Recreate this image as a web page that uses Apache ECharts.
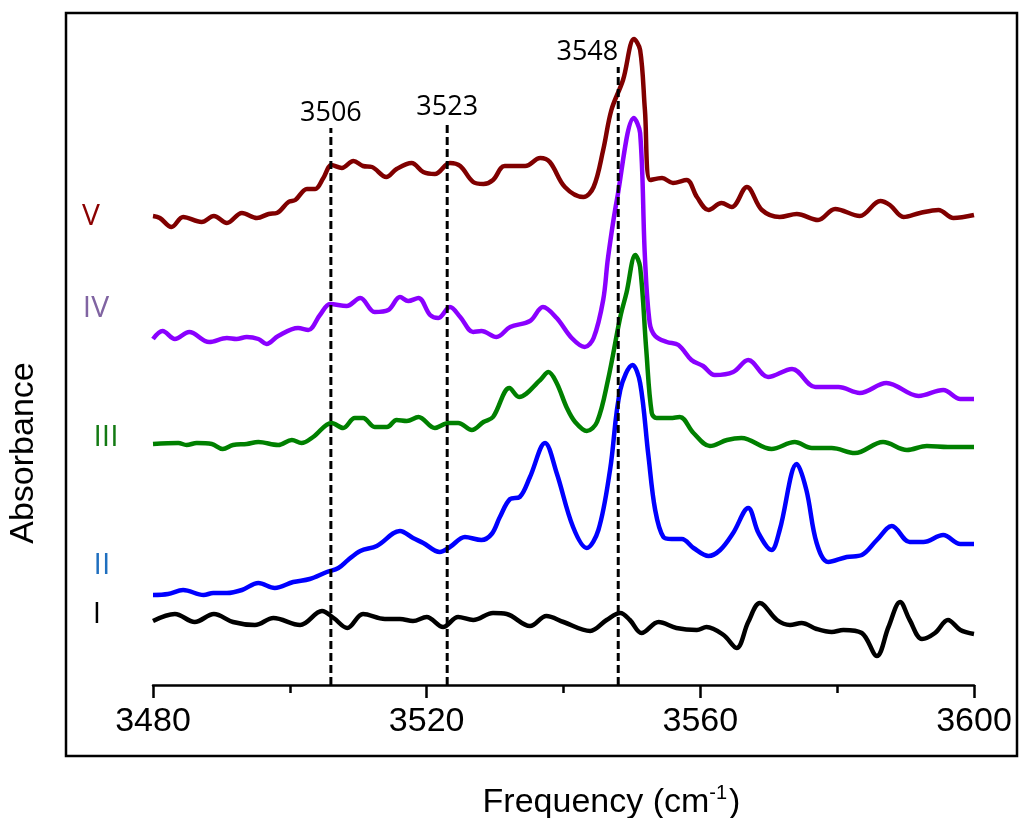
<!DOCTYPE html>
<html>
<head>
<meta charset="utf-8">
<script src="https://cdn.jsdelivr.net/npm/echarts@6/dist/echarts.min.js"></script>
<style>html,body{margin:0;padding:0;background:#fff}#c{width:1035px;height:818px}</style>
</head>
<body>
<div id="c"></div>
<script>
// x tick range
const xTicks = [3480, 3520, 3560, 3600];

// Spectrum V
const specV = [[3480.0,4.69],[3481.0,4.67],[3482.7,4.58],[3484.4,4.68],[3487.1,4.63],[3488.9,4.69],[3490.8,4.62],[3493.0,4.72],[3495.2,4.67],[3496.9,4.71],[3498.1,4.72],[3499.8,4.83],[3500.8,4.85],[3502.5,4.96],[3503.7,4.96],[3504.9,5.07],[3506.1,5.20],[3507.6,5.17],[3509.3,5.24],[3510.7,5.19],[3512.0,5.18],[3514.1,5.08],[3515.6,5.16],[3517.8,5.22],[3519.5,5.13],[3521.2,5.11],[3523.4,5.22],[3524.9,5.19],[3526.8,5.03],[3528.3,5.01],[3529.7,5.05],[3531.4,5.19],[3534.4,5.19],[3536.6,5.27],[3538.0,5.23],[3540.2,4.98],[3542.9,4.88],[3544.4,4.98],[3545.8,5.35],[3547.0,5.75],[3548.7,6.05],[3550.3,6.46],[3551.2,6.35],[3551.9,5.75],[3552.7,5.05],[3554.4,5.07],[3556.0,5.02],[3558.0,5.05],[3559.5,4.88],[3561.2,4.75],[3563.1,4.82],[3564.6,4.78],[3566.8,4.98],[3569.0,4.75],[3571.6,4.68],[3574.1,4.71],[3577.2,4.65],[3579.7,4.76],[3583.3,4.69],[3586.3,4.84],[3587.7,4.80],[3589.7,4.68],[3592.1,4.72],[3594.8,4.75],[3597.0,4.67],[3600.0,4.70]];

// Spectrum IV
const specIV = [[3480.0,3.46],[3481.4,3.54],[3483.2,3.46],[3485.3,3.53],[3488.2,3.43],[3490.8,3.47],[3492.2,3.46],[3493.7,3.48],[3495.4,3.46],[3496.6,3.41],[3498.3,3.49],[3501.2,3.57],[3502.7,3.55],[3504.4,3.70],[3505.9,3.81],[3508.3,3.79],[3510.3,3.87],[3512.4,3.73],[3514.4,3.75],[3516.1,3.88],[3517.3,3.84],[3518.8,3.87],[3520.5,3.70],[3521.7,3.67],[3523.4,3.78],[3524.9,3.68],[3526.8,3.53],[3528.0,3.54],[3530.2,3.48],[3532.2,3.58],[3535.1,3.64],[3537.0,3.78],[3539.0,3.67],[3541.2,3.47],[3543.1,3.38],[3544.4,3.47],[3545.8,3.85],[3546.5,4.27],[3547.8,4.85],[3550.3,5.67],[3551.2,5.52],[3551.9,4.28],[3552.6,3.62],[3553.4,3.49],[3555.1,3.43],[3556.8,3.40],[3558.7,3.25],[3560.4,3.19],[3562.1,3.10],[3564.8,3.13],[3567.0,3.25],[3569.9,3.08],[3573.4,3.16],[3576.8,2.98],[3580.2,2.98],[3583.3,2.92],[3587.2,3.02],[3591.9,2.89],[3595.5,2.95],[3598.0,2.86],[3600.0,2.86]];

// Spectrum III
const specIII = [[3480.0,2.41],[3483.7,2.42],[3484.9,2.40],[3486.4,2.42],[3488.6,2.41],[3490.2,2.36],[3491.7,2.40],[3493.7,2.41],[3495.4,2.43],[3498.3,2.40],[3500.3,2.45],[3501.7,2.42],[3503.4,2.48],[3506.1,2.62],[3507.8,2.57],[3509.5,2.67],[3510.7,2.67],[3512.4,2.58],[3514.2,2.58],[3515.6,2.65],[3517.1,2.64],[3518.8,2.68],[3521.2,2.57],[3523.2,2.62],[3524.6,2.62],[3526.6,2.55],[3528.3,2.63],[3529.7,2.68],[3532.1,2.97],[3533.5,2.88],[3536.6,3.05],[3537.8,3.13],[3539.0,3.02],[3540.5,2.77],[3541.7,2.63],[3543.4,2.54],[3544.9,2.63],[3546.5,3.05],[3548.3,3.68],[3549.2,3.92],[3550.5,4.30],[3551.2,4.18],[3552.1,3.35],[3552.9,2.72],[3553.6,2.67],[3555.6,2.67],[3557.0,2.68],[3559.0,2.52],[3561.4,2.39],[3563.9,2.45],[3566.0,2.47],[3570.4,2.36],[3573.8,2.43],[3576.3,2.37],[3579.2,2.37],[3582.6,2.32],[3586.7,2.43],[3590.2,2.35],[3593.1,2.39],[3596.2,2.38],[3600.0,2.38]];

// Spectrum II
const specII = [[3480.0,0.90],[3482.2,0.91],[3484.4,0.95],[3487.4,0.90],[3488.8,0.92],[3490.8,0.92],[3493.0,0.95],[3495.4,1.02],[3497.8,0.97],[3500.5,1.03],[3502.9,1.06],[3505.4,1.13],[3507.1,1.17],[3508.5,1.25],[3510.3,1.34],[3512.7,1.39],[3516.1,1.54],[3518.0,1.47],[3519.5,1.42],[3521.9,1.33],[3523.4,1.38],[3525.6,1.48],[3528.0,1.45],[3529.5,1.51],[3530.7,1.68],[3532.2,1.86],[3533.6,1.88],[3535.1,2.08],[3537.3,2.42],[3539.0,2.12],[3541.4,1.58],[3543.4,1.37],[3545.1,1.55],[3546.8,2.15],[3548.3,2.95],[3550.1,3.20],[3551.2,3.02],[3552.4,2.30],[3553.4,1.75],[3554.6,1.48],[3555.8,1.46],[3557.3,1.46],[3559.0,1.37],[3561.2,1.29],[3562.9,1.35],[3564.8,1.52],[3567.0,1.77],[3568.5,1.52],[3570.4,1.35],[3571.6,1.55],[3574.1,2.21],[3575.5,1.95],[3577.0,1.42],[3578.7,1.23],[3581.4,1.28],[3583.6,1.30],[3585.8,1.45],[3588.0,1.59],[3590.6,1.43],[3592.6,1.43],[3595.5,1.50],[3598.0,1.41],[3600.0,1.41]];

// Spectrum I
const specI = [[3480.0,0.64],[3483.2,0.71],[3486.1,0.63],[3488.9,0.71],[3491.7,0.63],[3494.9,0.60],[3497.6,0.67],[3501.5,0.60],[3504.7,0.74],[3506.4,0.67],[3508.4,0.57],[3510.7,0.71],[3513.9,0.66],[3516.1,0.66],[3518.0,0.64],[3520.0,0.68],[3522.4,0.58],[3524.6,0.68],[3526.8,0.65],[3529.7,0.72],[3531.7,0.71],[3535.1,0.59],[3537.5,0.69],[3540.0,0.63],[3543.9,0.54],[3546.3,0.65],[3548.3,0.72],[3549.7,0.65],[3551.4,0.52],[3553.9,0.63],[3556.5,0.57],[3559.5,0.55],[3560.9,0.58],[3563.4,0.50],[3565.3,0.37],[3567.0,0.63],[3568.7,0.82],[3571.2,0.65],[3573.1,0.60],[3574.8,0.62],[3577.0,0.56],[3579.2,0.53],[3580.9,0.55],[3583.6,0.52],[3585.8,0.29],[3587.5,0.58],[3589.2,0.83],[3590.6,0.65],[3592.4,0.46],[3594.3,0.52],[3596.2,0.65],[3598.0,0.55],[3600.0,0.51]];

// Marker (dashed) lines
const markerFreq = [3506, 3523, 3548];
const markerTop = [5.57, 5.63, 6.18];

const seriesNames = ['V', 'IV', 'III', 'II', 'I'];
const seriesData = [specV, specIV, specIII, specII, specI];
const lineColors = ['#800000', '#8a00ff', '#008000', '#0000ff', '#000000'];
const labelColors = ['#8b0000', '#8064a2', '#137a13', '#1f6fbf', '#000000'];
const labelPos = [[91, 216], [96, 308], [106, 437], [102, 565], [97, 614]];

const chart = echarts.init(document.getElementById('c'), null, {renderer: 'canvas'});

const series = seriesData.map((d, i) => ({
  type: 'line', name: seriesNames[i], data: d, smooth: 0.35, symbol: 'none',
  lineStyle: {color: lineColors[i], width: 4.5}, z: 2, silent: true
}));

markerFreq.forEach((f, i) => {
  series.push({
    type: 'line', symbol: 'circle', symbolSize: 2, showSymbol: true, z: 5, silent: true,
    itemStyle: {color: 'rgba(0,0,0,0)', borderWidth: 0},
    lineStyle: {color: '#000', width: 3, type: [8, 4]},
    labelLayout: {hideOverlap: false},
    data: [
      {value: [f, 0], label: {show: false}},
      {value: [f, markerTop[i]], label: {
        show: true, formatter: String(f), color: '#000', fontSize: 27,
        fontFamily: 'Open Sans', position: 'top', distance: 0,
        align: i === 2 ? 'right' : 'center'
      }}
    ]
  });
});

const graphic = [
  {type: 'rect', shape: {x: 66, y: 13, width: 951, height: 743}, style: {fill: 'none', stroke: '#000', lineWidth: 2.5}, z: 10},
  {type: 'text', x: 24, y: 453, rotation: Math.PI / 2,
    style: {text: 'Absorbance', fill: '#000', font: '34px "Liberation Sans"', textAlign: 'center', textVerticalAlign: 'middle'}}
];
seriesNames.forEach((n, i) => {
  graphic.push({type: 'text', x: labelPos[i][0], y: labelPos[i][1],
    style: {text: n, fill: labelColors[i], font: '30px "Open Sans"', textAlign: 'center', textVerticalAlign: 'middle'}});
});

chart.setOption({
  animation: false,
  grid: {left: 153, right: 61, top: 13, bottom: 133, containLabel: false, outerBoundsMode: 'none'},
  xAxis: {
    type: 'value', min: xTicks[0], max: xTicks[xTicks.length - 1], interval: 40,
    axisLine: {show: true, onZero: false, lineStyle: {color: '#000', width: 2.5}},
    axisTick: {show: true, inside: false, length: 13, lineStyle: {color: '#000', width: 2.5}},
    minorTick: {show: true, splitNumber: 2, length: 8, lineStyle: {color: '#000', width: 2.5}},
    splitLine: {show: false},
    axisLabel: {color: '#000', fontSize: 34, fontFamily: 'Liberation Sans', margin: 20, formatter: v => String(v)},
    name: '{a|Frequency (cm}{s|-1}{a|)}',
    nameLocation: 'middle', nameGap: 98,
    nameTextStyle: {
      padding: [0, 0, 0, 96],
      rich: {
        a: {fontSize: 34, fontFamily: 'Liberation Sans', color: '#000', lineHeight: 40},
        s: {fontSize: 20, fontFamily: 'Liberation Sans', color: '#000', verticalAlign: 'top', lineHeight: 40, padding: [0, 2, 12, 0]}
      }
    }
  },
  yAxis: {
    type: 'value', min: 0, max: 6.72, show: false
  },
  graphic: graphic,
  series: series
});
</script>
</body>
</html>
